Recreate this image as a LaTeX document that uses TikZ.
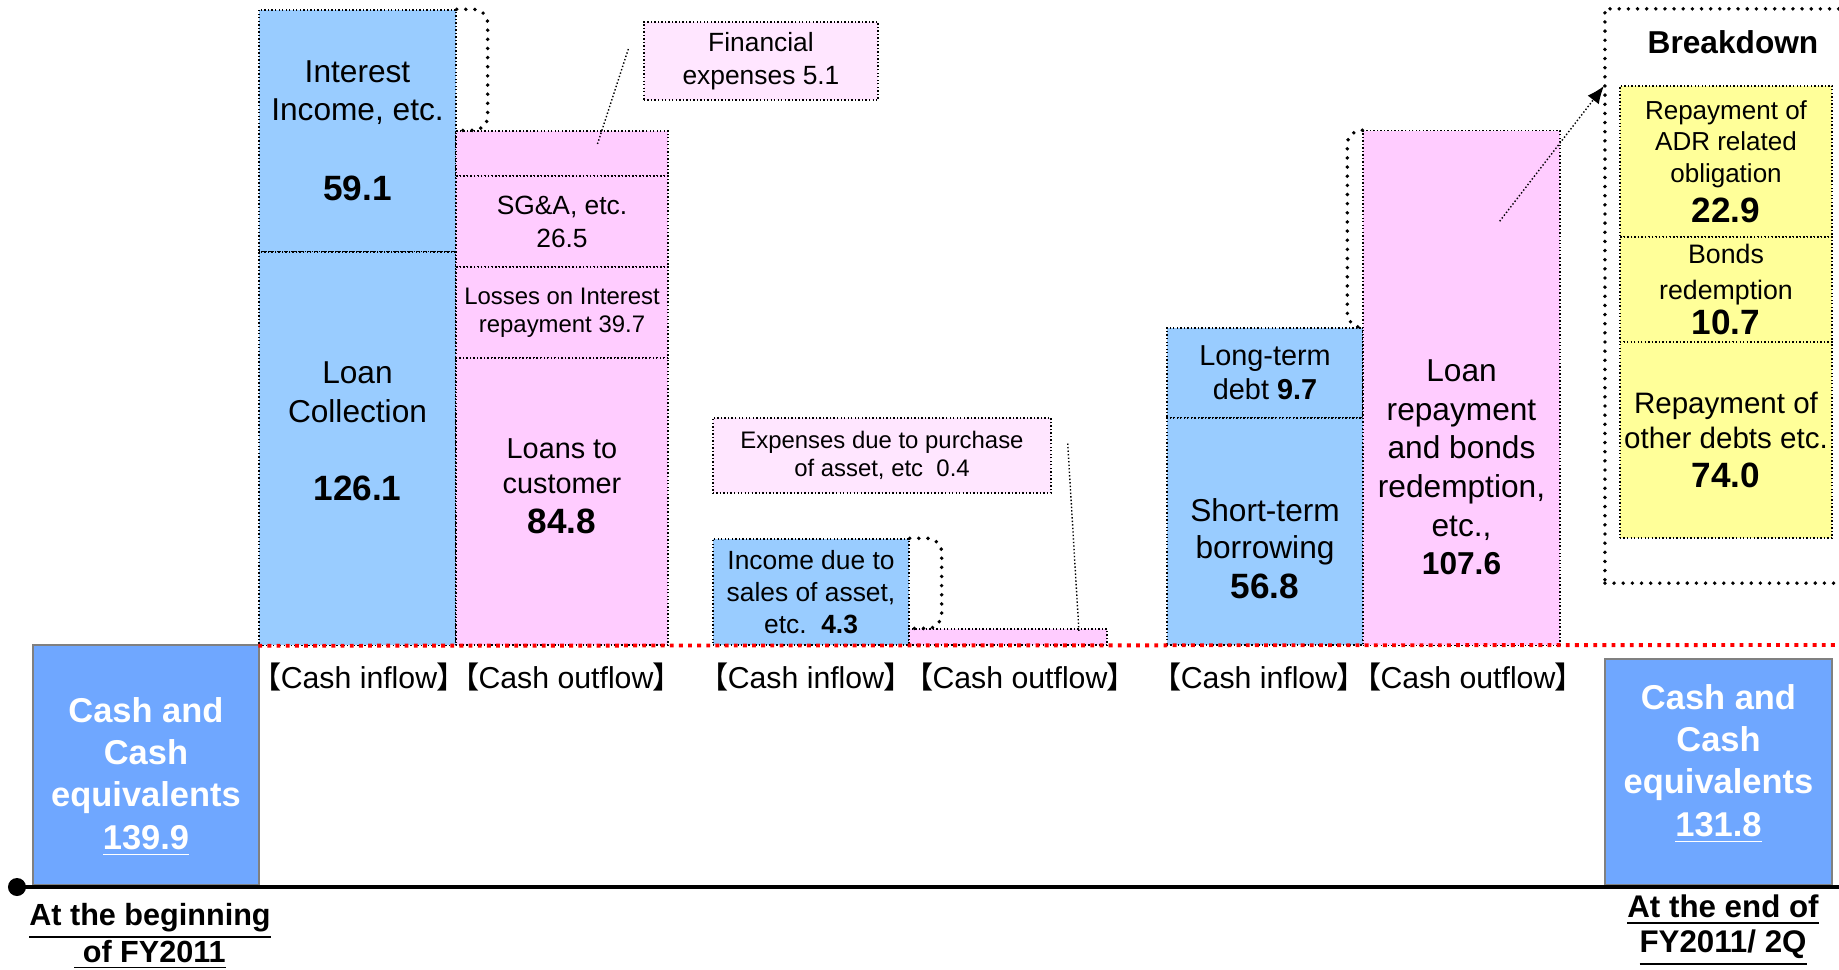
\documentclass[tikz,border=0pt]{standalone}
\usepackage{fontspec}
\setmainfont{Liberation Sans}
\newfontfamily\cjkfont[RawFeature=+palt]{Noto Sans CJK JP}
\usetikzlibrary{arrows.meta,calc}

\definecolor{inblue}{RGB}{153,204,255}
\definecolor{outpink}{RGB}{255,204,255}
\definecolor{notepink}{RGB}{255,230,255}
\definecolor{subyellow}{RGB}{255,255,153}
\definecolor{cashblue}{RGB}{111,167,255}

\newcommand{\cashin}{{\cjkfont 【}Cash inflow{\cjkfont 】}}
\newcommand{\cashout}{{\cjkfont 【}Cash outflow{\cjkfont 】}}
\newcommand{\amt}[1]{{\fontsize{10}{12}\selectfont\bfseries #1}}

\begin{document}
\begin{tikzpicture}[x=0.01cm, y=-0.01cm,
    box/.style={draw, dash pattern=on 0.4pt off 0.6pt, line width=0.35pt, inner sep=0pt, align=center},
    inbox/.style={box, fill=inblue},
    outbox/.style={box, fill=outpink},
    notebox/.style={box, fill=notepink},
    subbox/.style={box, fill=subyellow},
    cashbox/.style={draw=gray, line width=0.6pt, fill=cashblue, inner sep=0pt},
    dotframe/.style={line width=1.1pt, dash pattern=on 0pt off 2.6pt, line cap=round},
    dotbracket/.style={dotframe, rounded corners=4pt},
    leader/.style={dash pattern=on 0.4pt off 0.6pt, line width=0.4pt},
    flowlabel/.style={font=\fontsize{8.6}{10}\selectfont, inner sep=1pt},
    cashtext/.style={font=\fontsize{9.8}{12}\selectfont\bfseries, text=white, align=center}]
    \useasboundingbox (0,0) rectangle (1839,970);
    \clip (0,0) rectangle (1839,970);

    % opening balance
    \node[cashbox, minimum width=2.26cm, minimum height=2.40cm] (begbox) at (146,765) {};
    \node[cashtext] (begtext) at (146,777) {Cash and\\Cash\\equivalents\\\underline{139.9}};

    % operating flows
    \node[inbox, minimum width=1.97cm, minimum height=2.42cm, font=\fontsize{9}{10.8}\selectfont] (intinc) at (357.5,131) {Interest\\Income, etc.\\[12pt]\amt{59.1}};
    \node[inbox, minimum width=1.97cm, minimum height=3.93cm] (loancol) at (357.5,448.5) {};
    \node[font=\fontsize{9}{11.1}\selectfont, align=center] (loancoltext) at (357.5,431.5) {Loan\\Collection\\[11pt]\amt{126.1}};
    \node[outbox, minimum width=2.12cm, minimum height=0.45cm] (finpart) at (562,153.5) {};
    \node[outbox, minimum width=2.12cm, minimum height=0.91cm, font=\fontsize{7.5}{9.4}\selectfont] (sga) at (562,221.5) {SG\&A, etc.\\26.5};
    \node[outbox, minimum width=2.12cm, minimum height=0.91cm, font=\fontsize{6.8}{8}\selectfont] (losses) at (562,312.5) {Losses on Interest\\repayment 39.7};
    \node[outbox, minimum width=2.12cm, minimum height=2.87cm] (loans) at (562,501.5) {};
    \node[font=\fontsize{8.2}{10.2}\selectfont, align=center] (loanstext) at (562,486) {Loans to\\customer\\[1pt]\amt{84.8}};
    \node[notebox, minimum width=2.34cm, minimum height=0.78cm, font=\fontsize{7.5}{9.4}\selectfont] (finexp) at (761,61) {Financial\\expenses 5.1};

    % investing flows
    \node[notebox, minimum width=3.38cm, minimum height=0.75cm, font=\fontsize{6.8}{8}\selectfont] (purchase) at (882,455.5) {Expenses due to purchase\\of asset, etc\ \ 0.4};
    \node[inbox, minimum width=1.96cm, minimum height=1.06cm, font=\fontsize{7.5}{9.1}\selectfont] (assetin) at (811,592) {Income due to\\sales of asset,\\etc.\ \ \textbf{4.3}};
    \node[outbox, minimum width=1.98cm, minimum height=0.16cm] (assetout) at (1008,637) {};

    % financing flows
    \node[inbox, minimum width=1.96cm, minimum height=0.90cm, font=\fontsize{8.2}{9.7}\selectfont] (ltdebt) at (1265,373) {Long-term\\debt \textbf{9.7}};
    \node[inbox, minimum width=1.96cm, minimum height=2.27cm] (stborrow) at (1265,531.5) {};
    \node[font=\fontsize{9}{10.5}\selectfont, align=center] (stborrowtext) at (1265,548.5) {Short-term\\borrowing\\[1pt]\amt{56.8}};
    \node[outbox, minimum width=1.97cm, minimum height=5.14cm] (repay) at (1461.5,388) {};
    \node[font=\fontsize{9}{11}\selectfont, align=center] (repaytext) at (1461.5,467.5) {Loan\\repayment\\and bonds\\redemption,\\etc.,\\\textbf{107.6}};

    % breakdown of repayments
    \node[draw, dotframe, minimum width=2.41cm, minimum height=5.74cm] (bdframe) at (1725.5,296) {};
    \node[font=\fontsize{9}{11}\selectfont\bfseries] (bdtitle) at (1733,42) {Breakdown};
    \node[subbox, minimum width=2.12cm, minimum height=1.51cm, font=\fontsize{7.4}{9}\selectfont] (adr) at (1726,161.5) {Repayment of\\ADR related\\obligation\\[2.4pt]\amt{22.9}};
    \node[subbox, minimum width=2.12cm, minimum height=1.05cm, font=\fontsize{7.6}{10}\selectfont] (bonds) at (1726,289.5) {Bonds\\redemption\\\amt{10.7}};
    \node[subbox, minimum width=2.12cm, minimum height=1.96cm, font=\fontsize{8.4}{10}\selectfont] (otherdebt) at (1726,440) {Repayment of\\other debts etc.\\[1pt]\amt{74.0}};

    % closing balance
    \node[cashbox, minimum width=2.27cm, minimum height=2.26cm] (endbox) at (1718.5,772) {};
    \node[cashtext] (endtext) at (1718.5,764) {Cash and\\Cash\\equivalents\\\underline{131.8}};

    % base line and time axis
    \coordinate (baseend) at (1845,645);
    \draw[red, line width=1.1pt, dash pattern=on 1.1pt off 1.5pt] (loancol.south west) -- (baseend);
    \node[circle, fill, inner sep=0pt, minimum size=0.18cm] (origin) at (17,887) {};
    \coordinate (axisend) at (1845,887);
    \draw[line width=1.4pt] (origin.center) -- (axisend);

    \foreach \n/\x in {1/359, 2/806, 3/1259}
    \node[flowlabel] (in\n) at (\x,677) {\cashin};
    \foreach \n/\x in {1/566, 2/1020, 3/1468}
    \node[flowlabel] (out\n) at (\x,677) {\cashout};

    \node[font=\fontsize{8.7}{10.5}\selectfont\bfseries, align=center] (begdate) at (150,936.5) {\underline{At the beginning}\\\underline{\ of FY2011}};
    \node[font=\fontsize{8.9}{10}\selectfont\bfseries, align=center] (enddate) at (1723,930.5) {\underline{At the end of}\\\underline{FY2011/ 2Q}};

    % brackets and call-outs
    \draw[dotbracket] (intinc.north east) -- ++(31,0) |- (finpart.north west);
    \draw[dotbracket] (assetin.north east) -- ++(32,0) |- (assetout.north west);
    \draw[dotbracket] (repay.north west) -- ++(-15,0) |- (ltdebt.north east);
    \draw[leader] ($(finexp.west)+(-15,-12)$) -- ($(finpart.center)+(35,-8)$);
    \draw[leader] ($(purchase.east)+(16,-12)$) -- ($(assetout.north)+(71,4)$);
    \draw[leader, -{Latex[length=5pt,width=4pt]}] ($(repay.north east)+(-61,91)$) -- ($(bdframe.north west)+(1,79)$);
\end{tikzpicture}
\end{document}
